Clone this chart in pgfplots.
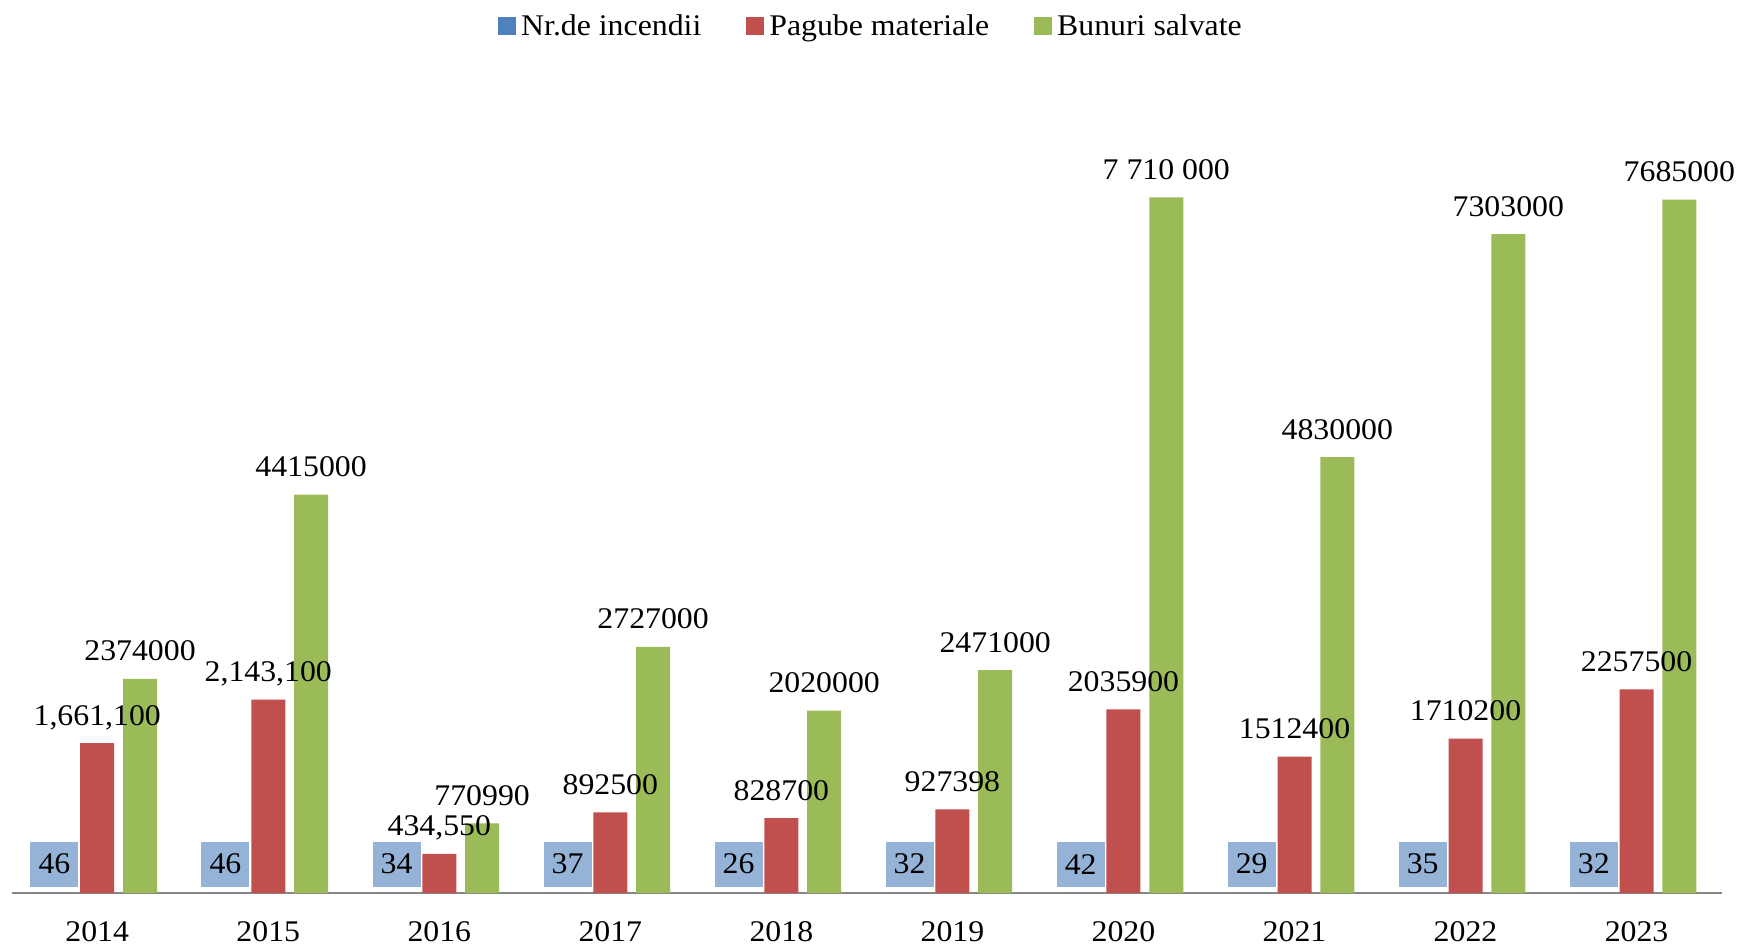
\documentclass[border=0pt]{standalone}
\usepackage{pgfplots}
\pgfplotsset{compat=1.18}
\usepackage{pgfplotstable}
\usepackage{fontspec}
\setmainfont{Liberation Serif}[FakeStretch=1.06]
\definecolor{cblue}{RGB}{79,129,189}
\definecolor{cred}{RGB}{192,80,77}
\definecolor{cgreen}{RGB}{155,187,89}
\definecolor{cboxblue}{RGB}{149,179,215}
\definecolor{caxis}{RGB}{134,134,134}

\pgfplotstableread[col sep=semicolon]{
x;blue;red;green;redlab;greenlab
0;46;1661100;2374000;1,661,100;2374000
1;46;2143100;4415000;2,143,100;4415000
2;34;434550;770990;434,550;770990
3;37;892500;2727000;892500;2727000
4;26;828700;2020000;828700;2020000
5;32;927398;2471000;927398;2471000
6;42;2035900;7710000;2035900;7 710 000
7;29;1512400;4830000;1512400;4830000
8;35;1710200;7303000;1710200;7303000
9;32;2257500;7685000;2257500;7685000
}\data

\begin{document}
\begin{tikzpicture}[font=\fontsize{15}{18}\selectfont]
\useasboundingbox (-5.85pt,-27.5pt) rectangle (864.65pt,446.5pt);
\begin{axis}[
  at={(0,0)}, anchor=south west,
  scale only axis, width=855.2pt, height=406pt,
  ymin=0, ymax=9000000, xmin=-0.5, xmax=9.5,
  ybar=4.4pt, bar width=17pt,
  axis x line*=bottom, axis y line=none,
  x axis line style={-, draw=caxis, line width=1pt},
  xtick={0,...,9},
  xticklabels={2014,2015,2016,2017,2018,2019,2020,2021,2022,2023},
  major tick length=0pt,
  xticklabel style={yshift=-10.7pt, text=black},
  /pgf/number format/assume math mode=true,
  clip=false,
  point meta=explicit symbolic,
  nodes near coords,
  every node near coord/.append style={anchor=base, yshift=9pt, text=black},
  legend style={at={(0.5,1)}, anchor=center, yshift=27.4pt, xshift=2.8pt,
    draw=none, fill=none, legend columns=3,
    /tikz/every even column/.append style={column sep=20pt},
    nodes={inner xsep=2.5pt}},
  legend cell align=left,
  legend image code/.code={\fill[#1] (0pt,-4.5pt) rectangle (9pt,4.5pt);},
]
\addplot[fill=cblue, draw=none,
  every node near coord/.append style={anchor=south, yshift=-6pt, fill=cboxblue,
    minimum height=22.5pt, minimum width=24pt, inner sep=0pt, text=black}]
  table[x=x, y=blue, meta=blue] {\data};
\addplot[fill=cred, draw=none] table[x=x, y=red, meta=redlab] {\data};
\addplot[fill=cgreen, draw=none] table[x=x, y=green, meta=greenlab] {\data};
\legend{Nr.de incendii, Pagube materiale, Bunuri salvate}
\end{axis}
\end{tikzpicture}
\end{document}
